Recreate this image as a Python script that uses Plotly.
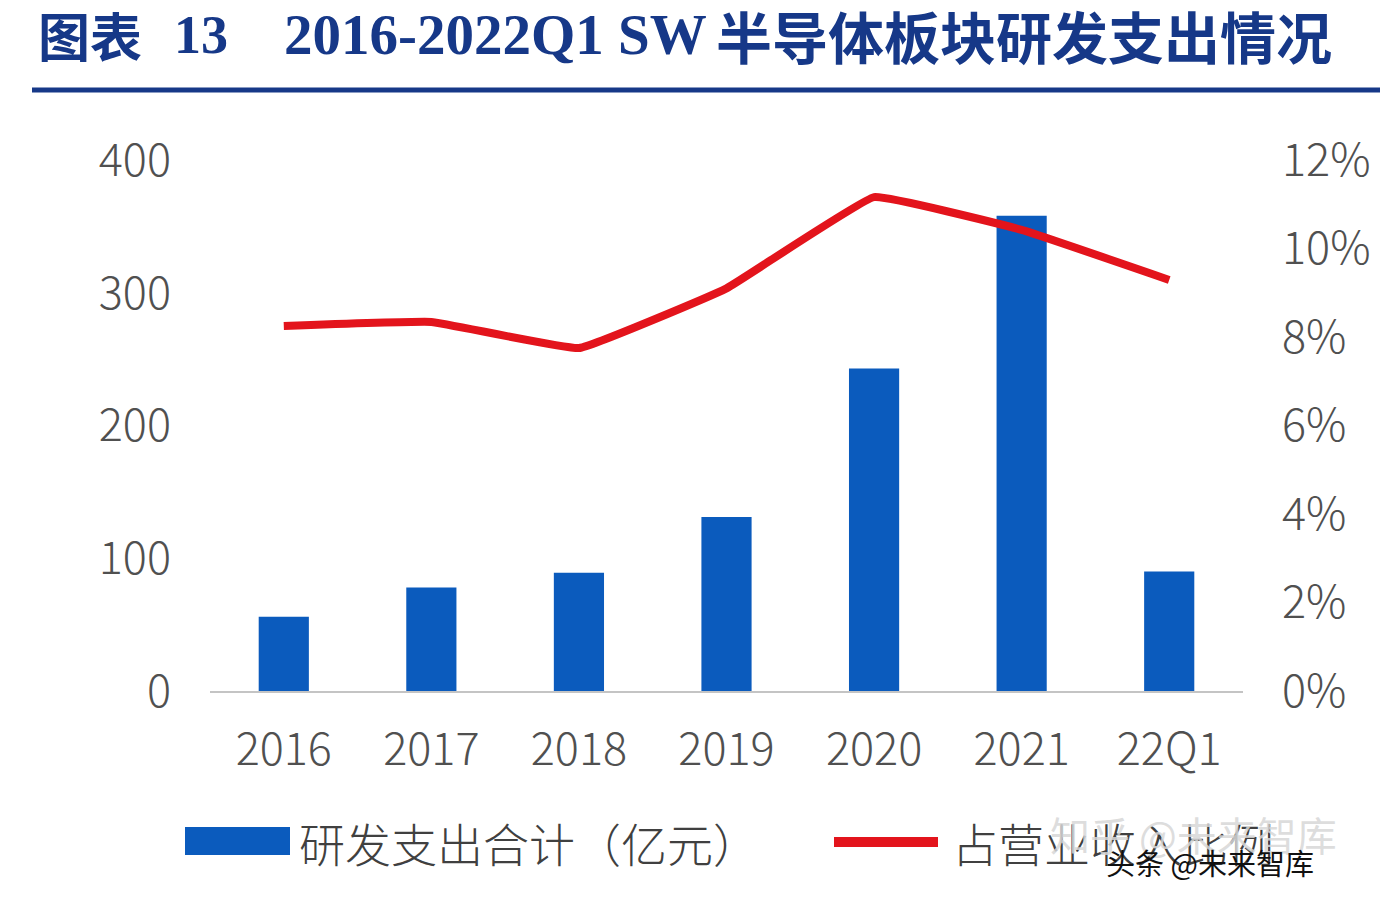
import plotly.graph_objects as go

categories = ["2016", "2017", "2018", "2019", "2020", "2021", "22Q1"]
rd_spend = [56, 78, 89, 131, 243, 358, 90]          # 研发支出合计（亿元）
rd_ratio = [0.0825, 0.0834, 0.0775, 0.091, 0.1116, 0.1042, 0.0929]  # 占营业收入比例

OFF = 8  # page body margin
W, H = 1388 - OFF, 904 - OFF
# plot area in page pixels: x 210..1243, y 160..691
L, R, T, B = 210 - OFF, (W + OFF) - 1243, 160 - OFF, (H + OFF) - 691
PW, PH = W - L - R, H - T - B

def px(x):
    return (x - OFF - L) / PW

def py(y):
    return (H - B - (y - OFF)) / PH

BLUE = "#0b5bbd"
RED = "#e3141c"
TXT = "#505050"
TITLE = "#163888"
NUMFONT = "Noto Sans CJK SC"
TICKFONT = dict(family=NUMFONT, size=45, color=TXT, weight=300)

fig = go.Figure()
fig.add_trace(go.Bar(x=categories, y=rd_spend, marker=dict(color=BLUE, line=dict(width=0)),
                     width=0.34, name="研发支出合计（亿元）", showlegend=False))
fig.add_trace(go.Scatter(x=categories, y=rd_ratio, yaxis="y2", mode="lines",
                         line=dict(color=RED, width=8, shape="spline", smoothing=0.25),
                         name="占营业收入比例", showlegend=False))

fig.update_layout(
    width=W, height=H,
    margin=dict(l=L, r=R, t=T, b=B, autoexpand=False),
    paper_bgcolor="white", plot_bgcolor="white",
    xaxis=dict(showgrid=False, showline=True, linecolor="#c4c4c4", linewidth=2,
               ticks="", tickfont=TICKFONT, ticklabelstandoff=18),
    yaxis=dict(range=[0, 400], dtick=100, showgrid=False, zeroline=False, showline=False,
               ticks="", tickfont=TICKFONT, ticklabelstandoff=38),
    yaxis2=dict(range=[0, 0.12], dtick=0.02, tickformat=".0%", overlaying="y", side="right",
                showgrid=False, zeroline=False, showline=False, ticks="",
                tickfont=TICKFONT, ticklabelstandoff=38),
)

anns = []
def ann(text, x, y, size, family, color, xanchor="left", weight="normal"):
    anns.append(dict(text=text, x=px(x), y=py(y), xref="paper", yref="paper",
                     xanchor=xanchor, yanchor="middle", showarrow=False,
                     font=dict(size=size, family=family, color=color, weight=weight)))

# Title pieces
ann("图表", 36, 35, 52, "Noto Sans CJK SC", TITLE, weight="bold")
ann("13", 172, 35, 54, "Liberation Serif", TITLE, weight="bold")
ann("2016-2022Q1 SW", 282, 35, 57, "Liberation Serif", TITLE, weight="bold")
ann("半导体板块研发支出情况", 714, 35, 56, "Noto Sans CJK SC", TITLE, weight="bold")

# Legend texts
ann("研发支出合计（亿元）", 297, 842, 46, "Noto Sans CJK SC", "#404040", weight=300)
ann("占营业收入比例", 950, 842, 46, "Noto Sans CJK SC", "#404040", weight=300)
# Watermarks
ann("知乎 @未来智库", 1048, 834, 40, "Noto Sans CJK SC", "rgba(215,215,215,0.85)")
ann("头条 @未来智库", 1104, 862, 29, "Noto Sans CJK SC", "#111111")

fig.update_layout(annotations=anns)

shapes = [
    # title underline
    dict(type="line", xref="paper", yref="paper", x0=px(32), x1=px(1388), y0=py(90), y1=py(90),
         line=dict(color=TITLE, width=5)),
    # legend bar swatch
    dict(type="rect", xref="paper", yref="paper", x0=px(185), x1=px(290), y0=py(855), y1=py(827),
         fillcolor=BLUE, line=dict(width=0)),
    # legend line swatch
    dict(type="line", xref="paper", yref="paper", x0=px(834), x1=px(938), y0=py(842), y1=py(842),
         line=dict(color=RED, width=10)),
]
fig.update_layout(shapes=shapes)

fig.write_html("out.html")
